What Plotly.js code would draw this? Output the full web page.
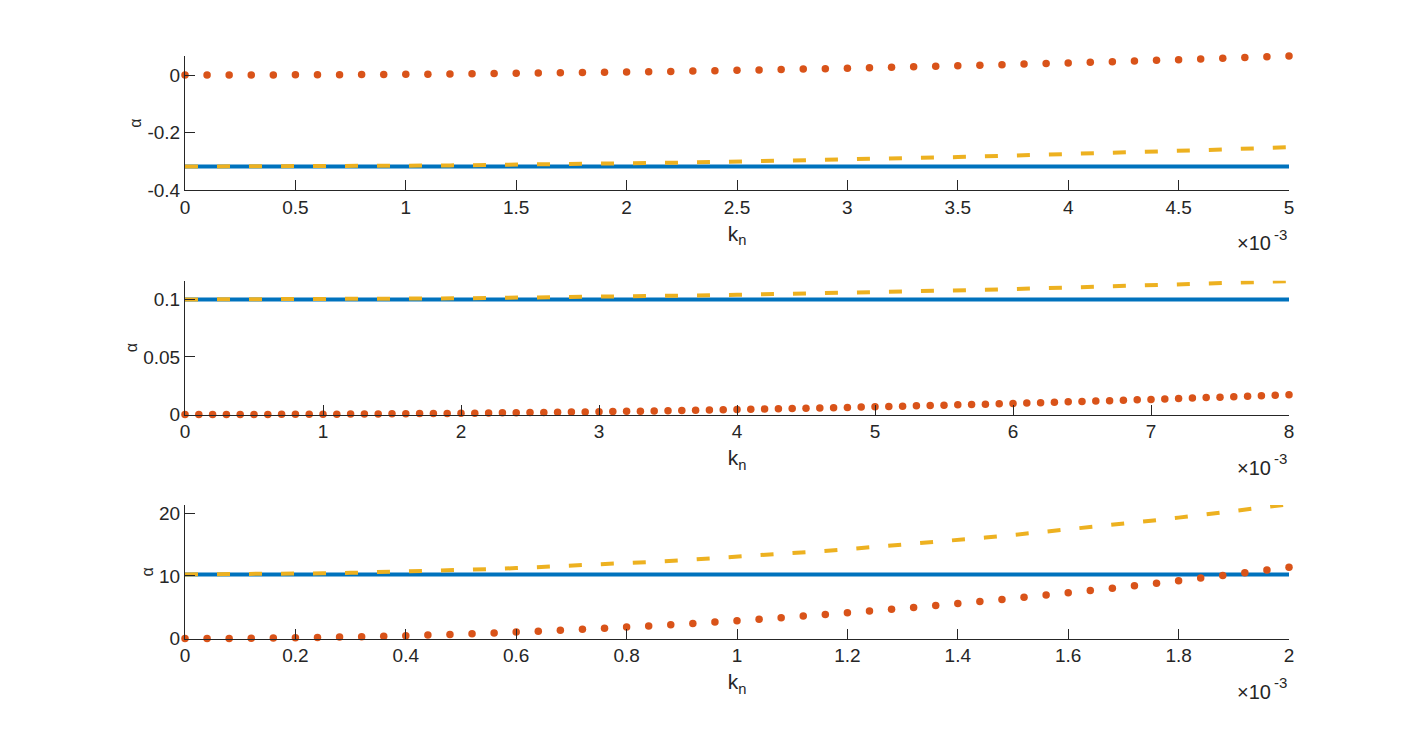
<!DOCTYPE html>
<html>
<head>
<meta charset="utf-8">
<script src="https://cdn.plot.ly/plotly-3.0.1.min.js"></script>
<style>html,body{margin:0;padding:0;background:#fff;}#chart{width:1425px;height:747px;}</style>
</head>
<body>
<div id="chart"></div>
<script>
// Panel 1: k_n = 0 ... 5e-3, step 1e-4
const kn1 = Array.from({length: 51}, (_, i) => i * 1e-4);
const blue1 = -0.3183;
const red1 = [0, 0.00003, 0.00011, 0.00024, 0.00042, 0.00066, 0.00095, 0.00129, 0.00169, 0.00214,
  0.00264, 0.00319, 0.0038, 0.00446, 0.00517, 0.00594, 0.00676, 0.00763, 0.00855, 0.00953,
  0.01056, 0.01164, 0.01278, 0.01397, 0.01521, 0.0165, 0.01785, 0.01925, 0.0207, 0.0222,
  0.02376, 0.02537, 0.02703, 0.02875, 0.03052, 0.03234, 0.03421, 0.03614, 0.03812, 0.04015,
  0.04224, 0.04438, 0.04657, 0.04881, 0.05111, 0.05346, 0.05586, 0.05832, 0.06083, 0.06339, 0.066];
const yellow1 = [-0.3183, -0.3183, -0.3182, -0.3181, -0.3179, -0.3176, -0.3173, -0.3170, -0.3166, -0.3161,
  -0.3156, -0.3151, -0.3144, -0.3138, -0.3130, -0.3123, -0.3114, -0.3105, -0.3096, -0.3086,
  -0.3075, -0.3064, -0.3053, -0.3041, -0.3028, -0.3015, -0.3001, -0.2987, -0.2972, -0.2957,
  -0.2941, -0.2925, -0.2908, -0.2890, -0.2872, -0.2854, -0.2834, -0.2815, -0.2795, -0.2774,
  -0.2753, -0.2731, -0.2709, -0.2686, -0.2662, -0.2638, -0.2614, -0.2589, -0.2563, -0.2537, -0.2511];

// Panel 2: k_n = 0 ... 8e-3
const kn2 = Array.from({length: 81}, (_, i) => i * 1e-4);
const kn2line = Array.from({length: 41}, (_, i) => i * 2e-4);
const blue2 = 0.1;
const red2 = [0, 0.000003, 0.000011, 0.000024, 0.000043, 0.000067, 0.000097, 0.000131, 0.000172, 0.000217,
  0.000268, 0.000324, 0.000386, 0.000453, 0.000525, 0.000603, 0.000686, 0.000775, 0.000868, 0.000968,
  0.001072, 0.001182, 0.001297, 0.001418, 0.001544, 0.001675, 0.001812, 0.001954, 0.002101, 0.002254,
  0.002412, 0.002576, 0.002744, 0.002919, 0.003098, 0.003283, 0.003473, 0.003669, 0.00387, 0.004076,
  0.004288, 0.004505, 0.004728, 0.004955, 0.005189, 0.005427, 0.005671, 0.00592, 0.006175, 0.006435,
  0.0067, 0.006971, 0.007247, 0.007528, 0.007815, 0.008107, 0.008405, 0.008707, 0.009016, 0.009329,
  0.009648, 0.009972, 0.010302, 0.010637, 0.010977, 0.011323, 0.011674, 0.012031, 0.012392, 0.01276,
  0.013132, 0.01351, 0.013893, 0.014282, 0.014676, 0.015075, 0.01548, 0.01589, 0.016305, 0.016726, 0.017152];
const yellow2 = [0.1, 0.10001, 0.10004, 0.10009, 0.10016, 0.10025, 0.10036, 0.10049, 0.10064, 0.10081,
  0.101, 0.10121, 0.10144, 0.10169, 0.10196, 0.10225, 0.10256, 0.10289, 0.10324, 0.10361,
  0.104, 0.10441, 0.10484, 0.10529, 0.10576, 0.10625, 0.10676, 0.10729, 0.10784, 0.10841,
  0.109, 0.10961, 0.11024, 0.11089, 0.11156, 0.11225, 0.11296, 0.11369, 0.11444, 0.11521, 0.116];

// Panel 3: k_n = 0 ... 2e-3
const kn3 = Array.from({length: 51}, (_, i) => i * 4e-5);
const kn3line = Array.from({length: 41}, (_, i) => i * 5e-5);
const blue3 = 10.24;
const red3 = [0, 0.0046, 0.0182, 0.041, 0.073, 0.114, 0.164, 0.223, 0.292, 0.369,
  0.456, 0.552, 0.657, 0.771, 0.894, 1.026, 1.167, 1.318, 1.477, 1.646,
  1.824, 2.011, 2.207, 2.412, 2.627, 2.85, 3.083, 3.324, 3.575, 3.835,
  4.104, 4.382, 4.669, 4.966, 5.271, 5.586, 5.91, 6.243, 6.585, 6.936,
  7.296, 7.665, 8.044, 8.431, 8.828, 9.234, 9.649, 10.073, 10.506, 10.949, 11.4];
const yellow3 = [10.24, 10.247, 10.268, 10.303, 10.352, 10.415, 10.492, 10.583, 10.688, 10.807,
  10.94, 11.087, 11.248, 11.423, 11.612, 11.815, 12.032, 12.263, 12.508, 12.767,
  13.04, 13.327, 13.628, 13.943, 14.272, 14.615, 14.972, 15.343, 15.728, 16.127,
  16.54, 16.967, 17.408, 17.863, 18.332, 18.815, 19.312, 19.823, 20.348, 20.887, 21.44];

// Tick values / labels
const xt1 = [0, 0.0005, 0.001, 0.0015, 0.002, 0.0025, 0.003, 0.0035, 0.004, 0.0045, 0.005];
const xl1 = ['0', '0.5', '1', '1.5', '2', '2.5', '3', '3.5', '4', '4.5', '5'];
const yt1 = [-0.4, -0.2, 0];
const yl1 = ['-0.4', '-0.2', '0'];
const xt2 = [0, 0.001, 0.002, 0.003, 0.004, 0.005, 0.006, 0.007, 0.008];
const xl2 = ['0', '1', '2', '3', '4', '5', '6', '7', '8'];
const yt2 = [0, 0.05, 0.1];
const yl2 = ['0', '0.05', '0.1'];
const xt3 = [0, 0.0002, 0.0004, 0.0006, 0.0008, 0.001, 0.0012, 0.0014, 0.0016, 0.0018, 0.002];
const xl3 = ['0', '0.2', '0.4', '0.6', '0.8', '1', '1.2', '1.4', '1.6', '1.8', '2'];
const yt3 = [0, 10, 20];
const yl3 = ['0', '10', '20'];

// ---------- Styling ----------
const C_BLUE = '#0072BD', C_RED = '#D95319', C_YEL = '#EDB120', AX = '#262626';
const FONT = 'Liberation Sans, Arial, Helvetica, sans-serif';
const W = 1425, H = 747;
const XL = 185 / W, XR = 1289 / W;

function traces(kn, knl, blue, red, yel, xa, ya) {
  const xmax = kn[kn.length - 1];
  return [
    {x: [0, xmax], y: [blue, blue], xaxis: xa, yaxis: ya, mode: 'lines',
     line: {color: C_BLUE, width: 4}, hoverinfo: 'skip'},
    {x: kn, y: red, xaxis: xa, yaxis: ya, mode: 'markers', cliponaxis: false,
     marker: {color: C_RED, size: 7.5}, hoverinfo: 'skip'},
    {x: knl, y: yel, xaxis: xa, yaxis: ya, mode: 'lines',
     line: {color: C_YEL, width: 4, dash: '13px,19px'}, hoverinfo: 'skip'}
  ];
}

const data = [].concat(
  traces(kn1, kn1, blue1, red1, yellow1, 'x', 'y'),
  traces(kn2, kn2line, blue2, red2, yellow2, 'x2', 'y2'),
  traces(kn3, kn3line, blue3, red3, yellow3, 'x3', 'y3')
);

function xaxis(range, tv, tt, anchor) {
  return {
    domain: [XL, XR], range: range, anchor: anchor,
    tickmode: 'array', tickvals: tv, ticktext: tt,
    ticks: 'inside', ticklen: 10, tickwidth: 1, tickcolor: AX,
    showline: true, linecolor: AX, linewidth: 1, mirror: false,
    showgrid: false, zeroline: false, automargin: false,
    tickfont: {family: FONT, size: 19, color: AX},
    title: {text: 'k<sub>n</sub>', font: {family: FONT, size: 21, color: AX}, standoff: 9}
  };
}
function yaxis(range, tv, tt, anchor, dom) {
  return {
    domain: dom, range: range, anchor: anchor,
    tickmode: 'array', tickvals: tv, ticktext: tt,
    ticks: 'inside', ticklen: 10, tickwidth: 1, tickcolor: AX,
    showline: true, linecolor: AX, linewidth: 1, mirror: false,
    showgrid: false, zeroline: false, automargin: false,
    tickfont: {family: FONT, size: 19, color: AX},
    title: {text: 'α', font: {family: FONT, size: 16, color: AX}, standoff: 1}
  };
}

function dom(top, bottom) { return [(H - bottom) / H, (H - top) / H]; }

const bottoms = [190, 414.5, 638.5];
const annotations = [];
bottoms.forEach(b => {
  annotations.push({
    xref: 'paper', yref: 'paper', x: 1273 / W, y: (H - (b + 53)) / H,
    xanchor: 'right', yanchor: 'middle', showarrow: false,
    text: '×10', font: {family: FONT, size: 20, color: AX}
  });
  annotations.push({
    xref: 'paper', yref: 'paper', x: 1289 / W, y: (H - (b + 44)) / H,
    xanchor: 'right', yanchor: 'middle', showarrow: false,
    text: '-3', font: {family: FONT, size: 15, color: AX}
  });
});

const layout = {
  width: W, height: H,
  margin: {l: 0, r: 0, t: 0, b: 0},
  paper_bgcolor: '#ffffff', plot_bgcolor: '#ffffff',
  showlegend: false,
  xaxis: xaxis([0, 0.005], xt1, xl1, 'y'),
  yaxis: yaxis([-0.4, 0.0663], yt1, yl1, 'x', dom(56, 190)),
  xaxis2: xaxis([0, 0.008], xt2, xl2, 'y2'),
  yaxis2: yaxis([0, 0.1163], yt2, yl2, 'x2', dom(280.7, 414.5)),
  xaxis3: xaxis([0, 0.002], xt3, xl3, 'y3'),
  yaxis3: yaxis([0, 21.33], yt3, yl3, 'x3', dom(505, 638.5)),
  annotations: annotations
};

Plotly.newPlot('chart', data, layout, {displayModeBar: false, staticPlot: true});
</script>
</body>
</html>
